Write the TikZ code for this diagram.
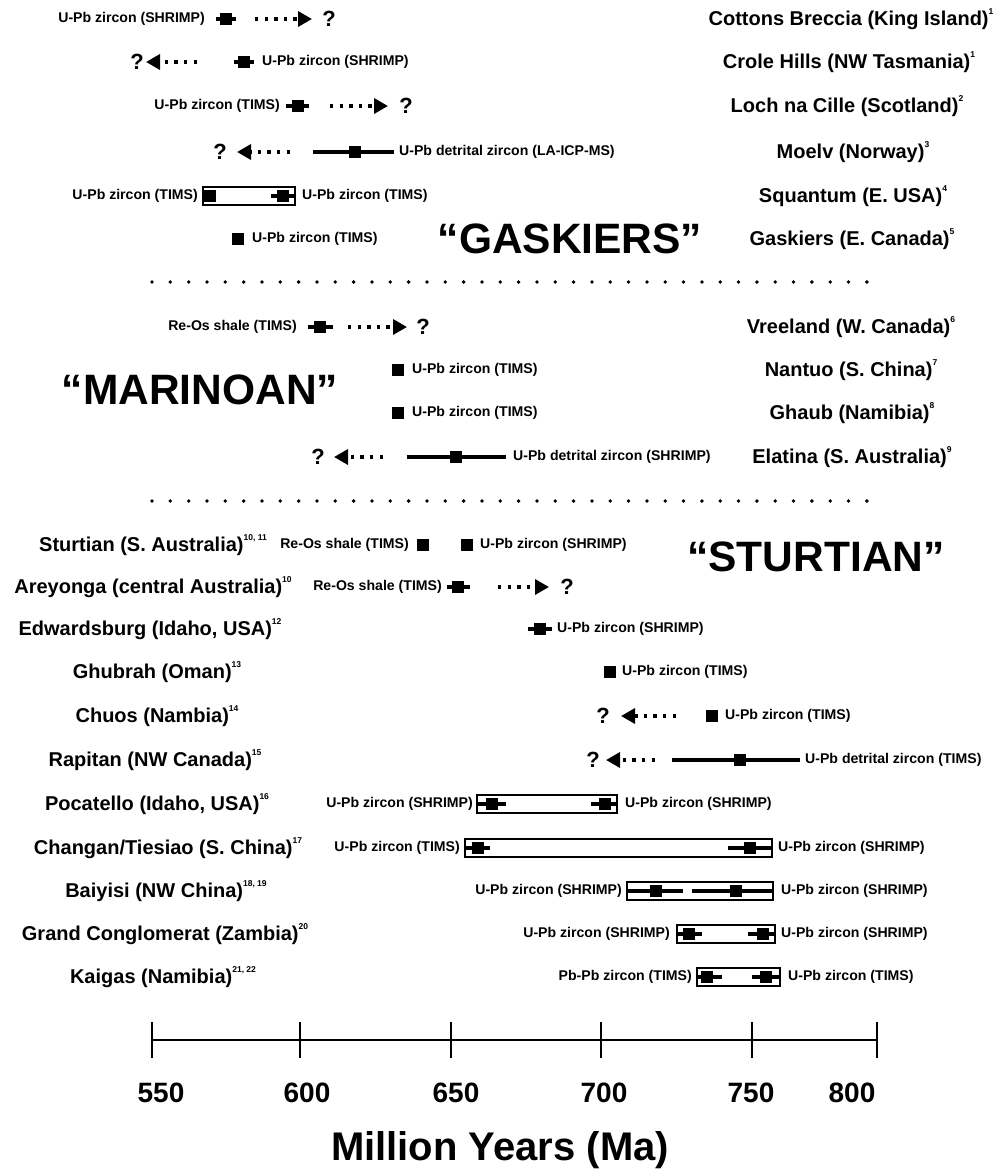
\documentclass[tikz,border=0pt]{standalone}
\usepackage{fontspec}
\setmainfont{Liberation Sans}
\usetikzlibrary{arrows.meta}
\newcommand{\fsz}[1]{\fontsize{#1}{#1}\selectfont\bfseries}
\newcommand{\sups}[1]{\raisebox{1.05ex}{\fontsize{8.5}{8.5}\selectfont\bfseries #1}}
\begin{document}
\begin{tikzpicture}[x=1pt,y=-1pt,
 mk/.style={rectangle,fill=black,minimum size=12.5pt,inner sep=0pt},
 ebar/.style={line width=3.2pt},
 dotarr/.style={line width=3.4pt,dash pattern=on 3.4pt off 6.2pt,-{Triangle[length=14pt,width=15pt]}},
 qm/.style={font=\fsz{22},inner sep=0pt},
 lbl/.style={font=\fsz{14.1},inner sep=0pt},
 reg/.style={font=\fsz{20},inner sep=0pt},
 big/.style={font=\fsz{42.5},inner sep=0pt},
 rng/.style={draw,line width=1.4pt},
 sep/.style={fill=black},
 ]
\useasboundingbox[fill=white] (0,0) rectangle (999,1176);

% ---------------- GASKIERS block ----------------
% Row 1 Cottons
\node[reg] (r1) at (851,19) {Cottons Breccia (King Island)\sups{1}};
\node[lbl,anchor=east] (l1) at (205,19) {U-Pb zircon (SHRIMP)};
\coordinate (e1a) at (216,19); \coordinate (e1b) at (236,19);
\draw[ebar] (e1a) -- (e1b);
\node[mk] (m1) at (226,19) {};
\coordinate (d1) at (255,19); \coordinate (t1) at (312,19);
\draw[dotarr] (d1) -- (t1);
\node[qm] (q1) at (329,19) {?};

% Row 2 Crole
\node[reg] (r2) at (849,62) {Crole Hills (NW Tasmania)\sups{1}};
\node[qm] (q2) at (137,62) {?};
\coordinate (d2) at (197,62); \coordinate (t2) at (146,62);
\draw[dotarr] (d2) -- (t2);
\coordinate (e2a) at (234,62); \coordinate (e2b) at (254,62);
\draw[ebar] (e2a) -- (e2b);
\node[mk] (m2) at (244,62) {};
\node[lbl,anchor=west] (l2) at (262,62) {U-Pb zircon (SHRIMP)};

% Row 3 Loch na Cille
\node[reg] (r3) at (847,106) {Loch na Cille (Scotland)\sups{2}};
\node[lbl,anchor=east] (l3) at (280,106) {U-Pb zircon (TIMS)};
\coordinate (e3a) at (286,106); \coordinate (e3b) at (309,106);
\draw[ebar] (e3a) -- (e3b);
\node[mk] (m3) at (298,106) {};
\coordinate (d3) at (330,106); \coordinate (t3) at (388,106);
\draw[dotarr] (d3) -- (t3);
\node[qm] (q3) at (406,106) {?};

% Row 4 Moelv
\node[reg] (r4) at (853,152) {Moelv (Norway)\sups{3}};
\node[qm] (q4) at (220,152) {?};
\coordinate (d4) at (290,152); \coordinate (t4) at (237,152);
\draw[dotarr] (d4) -- (t4);
\coordinate (e4a) at (313,152); \coordinate (e4b) at (394,152);
\draw[ebar] (e4a) -- (e4b);
\node[mk] (m4) at (355,152) {};
\node[lbl,anchor=west] (l4) at (399,152) {U-Pb detrital zircon (LA-ICP-MS)};

% Row 5 Squantum
\node[reg] (r5) at (853,196) {Squantum (E. USA)\sups{4}};
\node[lbl,anchor=east] (l5a) at (198,196) {U-Pb zircon (TIMS)};
\coordinate (b5a) at (203,187); \coordinate (b5b) at (295,205);
\draw[rng] (b5a) rectangle (b5b);
\node[mk] (m5a) at (210,196) {};
\coordinate (e5a) at (271,196); \coordinate (e5b) at (295,196);
\draw[ebar] (e5a) -- (e5b);
\node[mk] (m5b) at (283,196) {};
\node[lbl,anchor=west] (l5b) at (302,196) {U-Pb zircon (TIMS)};

% Row 6 Gaskiers
\node[reg] (r6) at (852,239) {Gaskiers (E. Canada)\sups{5}};
\node[mk] (m6) at (238,239) {};
\node[lbl,anchor=west] (l6) at (252,239) {U-Pb zircon (TIMS)};
\node[big] (gask) at (570,239) {“GASKIERS”};

% separator 1
\foreach \i in {0,...,39} \fill[sep] (152+\i*18.33,282) circle (1.9pt);

% ---------------- MARINOAN block ----------------
% Row 7 Vreeland
\node[reg] (r7) at (851,327) {Vreeland (W. Canada)\sups{6}};
\node[lbl,anchor=east] (l7) at (297,327) {Re-Os shale (TIMS)};
\coordinate (e7a) at (308,327); \coordinate (e7b) at (333,327);
\draw[ebar] (e7a) -- (e7b);
\node[mk] (m7) at (320,327) {};
\coordinate (d7) at (348,327); \coordinate (t7) at (407,327);
\draw[dotarr] (d7) -- (t7);
\node[qm] (q7) at (423,327) {?};

% Row 8 Nantuo
\node[reg] (r8) at (851,370) {Nantuo (S. China)\sups{7}};
\node[mk] (m8) at (398,370) {};
\node[lbl,anchor=west] (l8) at (412,370) {U-Pb zircon (TIMS)};

% Row 9 Ghaub
\node[reg] (r9) at (852,413) {Ghaub (Namibia)\sups{8}};
\node[mk] (m9) at (398,413) {};
\node[lbl,anchor=west] (l9) at (412,413) {U-Pb zircon (TIMS)};

\node[big] (mari) at (200,390) {“MARINOAN”};

% Row 10 Elatina
\node[reg] (r10) at (852,457) {Elatina (S. Australia)\sups{9}};
\node[qm] (q10) at (318,457) {?};
\coordinate (d10) at (383,457); \coordinate (t10) at (334,457);
\draw[dotarr] (d10) -- (t10);
\coordinate (e10a) at (407,457); \coordinate (e10b) at (506,457);
\draw[ebar] (e10a) -- (e10b);
\node[mk] (m10) at (456,457) {};
\node[lbl,anchor=west] (l10) at (513,457) {U-Pb detrital zircon (SHRIMP)};

% separator 2
\foreach \i in {0,...,39} \fill[sep] (152+\i*18.33,501) circle (1.9pt);

% ---------------- STURTIAN block ----------------
% Row 11 Sturtian
\node[reg] (r11) at (153,545) {Sturtian (S. Australia)\sups{10, 11}};
\node[lbl,anchor=east] (l11a) at (409,545) {Re-Os shale (TIMS)};
\node[mk] (m11a) at (423,545) {};
\node[mk] (m11b) at (467,545) {};
\node[lbl,anchor=west] (l11b) at (480,545) {U-Pb zircon (SHRIMP)};
\node[big] (stur) at (816,557) {“STURTIAN”};

% Row 12 Areyonga
\node[reg] (r12) at (153,587) {Areyonga (central Australia)\sups{10}};
\node[lbl,anchor=east] (l12) at (442,587) {Re-Os shale (TIMS)};
\coordinate (e12a) at (447,587); \coordinate (e12b) at (470,587);
\draw[ebar] (e12a) -- (e12b);
\node[mk] (m12) at (458,587) {};
\coordinate (d12) at (498,587); \coordinate (t12) at (549,587);
\draw[dotarr] (d12) -- (t12);
\node[qm] (q12) at (567,587) {?};

% Row 13 Edwardsburg
\node[reg] (r13) at (150,629) {Edwardsburg (Idaho, USA)\sups{12}};
\coordinate (e13a) at (528,629); \coordinate (e13b) at (552,629);
\draw[ebar] (e13a) -- (e13b);
\node[mk] (m13) at (540,629) {};
\node[lbl,anchor=west] (l13) at (557,629) {U-Pb zircon (SHRIMP)};

% Row 14 Ghubrah
\node[reg] (r14) at (157,672) {Ghubrah (Oman)\sups{13}};
\node[mk] (m14) at (610,672) {};
\node[lbl,anchor=west] (l14) at (622,672) {U-Pb zircon (TIMS)};

% Row 15 Chuos
\node[reg] (r15) at (157,716) {Chuos (Nambia)\sups{14}};
\node[qm] (q15) at (603,716) {?};
\coordinate (d15) at (676,716); \coordinate (t15) at (621,716);
\draw[dotarr] (d15) -- (t15);
\node[mk] (m15) at (712,716) {};
\node[lbl,anchor=west] (l15) at (725,716) {U-Pb zircon (TIMS)};

% Row 16 Rapitan
\node[reg] (r16) at (155,760) {Rapitan (NW Canada)\sups{15}};
\node[qm] (q16) at (593,760) {?};
\coordinate (d16) at (655,760); \coordinate (t16) at (606,760);
\draw[dotarr] (d16) -- (t16);
\coordinate (e16a) at (672,760); \coordinate (e16b) at (800,760);
\draw[ebar] (e16a) -- (e16b);
\node[mk] (m16) at (740,760) {};
\node[lbl,anchor=west] (l16) at (805,760) {U-Pb detrital zircon (TIMS)};

% Row 17 Pocatello
\node[reg] (r17) at (157,804) {Pocatello (Idaho, USA)\sups{16}};
\node[lbl,anchor=east] (l17a) at (473,804) {U-Pb zircon (SHRIMP)};
\coordinate (b17a) at (477,795); \coordinate (b17b) at (617,813);
\draw[rng] (b17a) rectangle (b17b);
\coordinate (e17a) at (478,804); \coordinate (e17b) at (506,804);
\draw[ebar] (e17a) -- (e17b);
\node[mk] (m17a) at (492,804) {};
\coordinate (e17c) at (591,804); \coordinate (e17d) at (617,804);
\draw[ebar] (e17c) -- (e17d);
\node[mk] (m17b) at (605,804) {};
\node[lbl,anchor=west] (l17b) at (625,804) {U-Pb zircon (SHRIMP)};

% Row 18 Changan
\node[reg] (r18) at (168,848) {Changan/Tiesiao (S. China)\sups{17}};
\node[lbl,anchor=east] (l18a) at (460,848) {U-Pb zircon (TIMS)};
\coordinate (b18a) at (465,839); \coordinate (b18b) at (772,857);
\draw[rng] (b18a) rectangle (b18b);
\coordinate (e18a) at (466,848); \coordinate (e18b) at (490,848);
\draw[ebar] (e18a) -- (e18b);
\node[mk] (m18a) at (478,848) {};
\coordinate (e18c) at (728,848); \coordinate (e18d) at (772,848);
\draw[ebar] (e18c) -- (e18d);
\node[mk] (m18b) at (750,848) {};
\node[lbl,anchor=west] (l18b) at (778,848) {U-Pb zircon (SHRIMP)};

% Row 19 Baiyisi
\node[reg] (r19) at (166,891) {Baiyisi (NW China)\sups{18, 19}};
\node[lbl,anchor=east] (l19a) at (622,891) {U-Pb zircon (SHRIMP)};
\coordinate (b19a) at (627,882); \coordinate (b19b) at (773,900);
\draw[rng] (b19a) rectangle (b19b);
\coordinate (e19a) at (627,891); \coordinate (e19b) at (683,891);
\draw[ebar] (e19a) -- (e19b);
\node[mk] (m19a) at (656,891) {};
\coordinate (e19c) at (692,891); \coordinate (e19d) at (773,891);
\draw[ebar] (e19c) -- (e19d);
\node[mk] (m19b) at (736,891) {};
\node[lbl,anchor=west] (l19b) at (781,891) {U-Pb zircon (SHRIMP)};

% Row 20 Grand Conglomerat
\node[reg] (r20) at (165,934) {Grand Conglomerat (Zambia)\sups{20}};
\node[lbl,anchor=east] (l20a) at (670,934) {U-Pb zircon (SHRIMP)};
\coordinate (b20a) at (677,925); \coordinate (b20b) at (775,943);
\draw[rng] (b20a) rectangle (b20b);
\coordinate (e20a) at (677,934); \coordinate (e20b) at (702,934);
\draw[ebar] (e20a) -- (e20b);
\node[mk] (m20a) at (689,934) {};
\coordinate (e20c) at (748,934); \coordinate (e20d) at (775,934);
\draw[ebar] (e20c) -- (e20d);
\node[mk] (m20b) at (763,934) {};
\node[lbl,anchor=west] (l20b) at (781,934) {U-Pb zircon (SHRIMP)};

% Row 21 Kaigas
\node[reg] (r21) at (163,977) {Kaigas (Namibia)\sups{21, 22}};
\node[lbl,anchor=east] (l21a) at (692,977) {Pb-Pb zircon (TIMS)};
\coordinate (b21a) at (697,968); \coordinate (b21b) at (780,986);
\draw[rng] (b21a) rectangle (b21b);
\coordinate (e21a) at (697,977); \coordinate (e21b) at (722,977);
\draw[ebar] (e21a) -- (e21b);
\node[mk] (m21a) at (707,977) {};
\coordinate (e21c) at (752,977); \coordinate (e21d) at (780,977);
\draw[ebar] (e21c) -- (e21d);
\node[mk] (m21b) at (766,977) {};
\node[lbl,anchor=west] (l21b) at (788,977) {U-Pb zircon (TIMS)};

% ---------------- Axis ----------------
\coordinate (ax0) at (152,1040); \coordinate (ax1) at (877,1040);
\draw[line width=2.7pt] (ax0) -- (ax1);
\foreach \xx/\nm in {152/a,300/b,451/c,601/d,752/e,877/f}{
  \coordinate (tk\nm a) at (\xx,1022); \coordinate (tk\nm b) at (\xx,1058);
  \draw[line width=2.7pt] (tk\nm a) -- (tk\nm b);
}
\foreach \xx/\lab in {161/550,307/600,456/650,604/700,751/750,852/800}
  \node[font=\fsz{28},inner sep=0pt] (n\lab) at (\xx,1093) {\lab};
\node[font=\fsz{40},inner sep=0pt] (title) at (500,1150) {Million Years (Ma)};
\end{tikzpicture}
\end{document}
